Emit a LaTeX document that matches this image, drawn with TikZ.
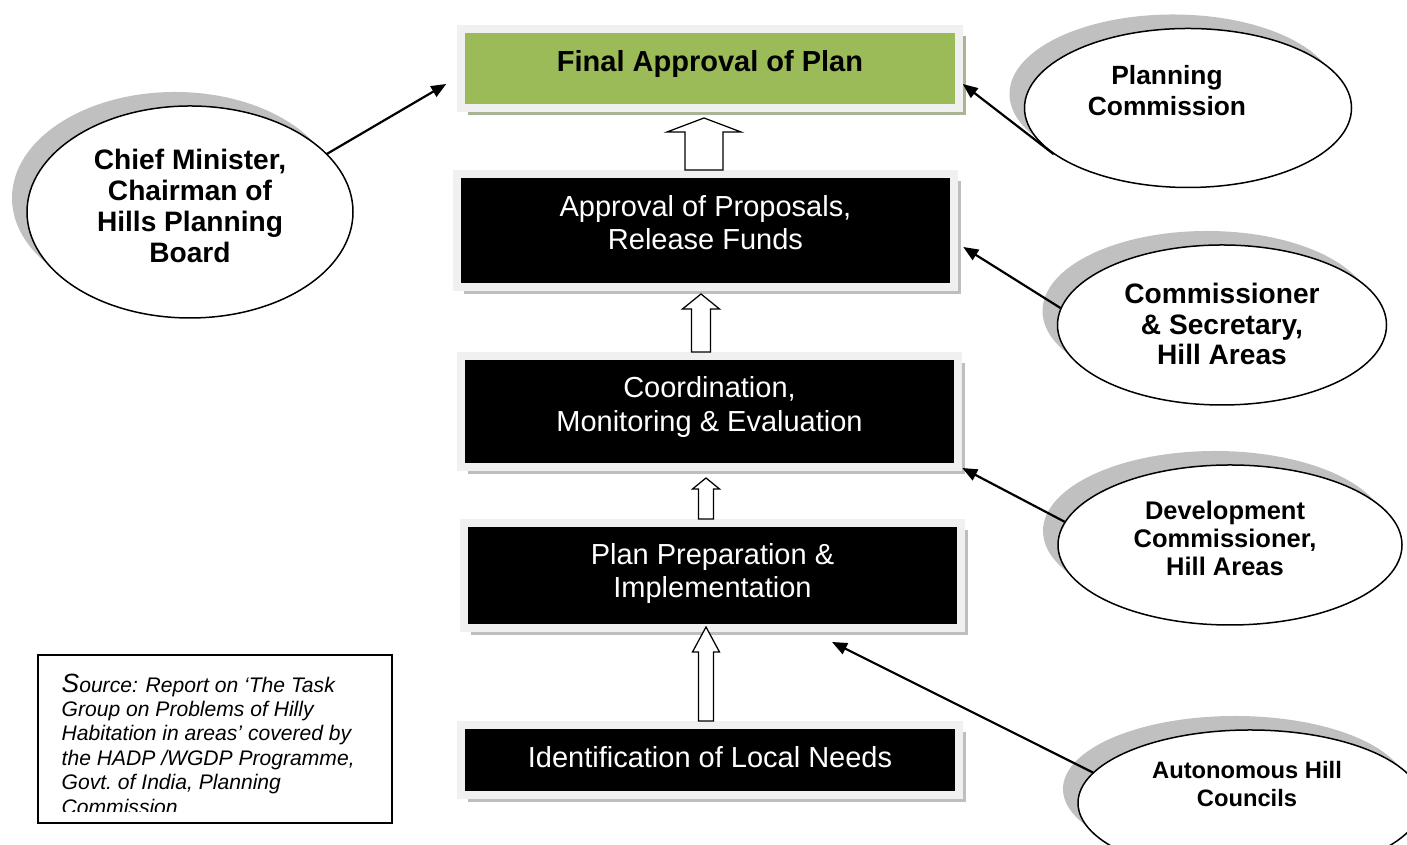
\documentclass[tikz,border=0pt]{standalone}
\usepackage{fontspec}
\setmainfont{Liberation Sans}
\usepackage{xcolor}
\usepackage{tikz}
\usetikzlibrary{arrows.meta, calc, shapes.geometric, shadows}
\definecolor{planolive}{RGB}{155, 187, 89}
\definecolor{framegray}{RGB}{240, 240, 240}
\definecolor{boxshade}{RGB}{190, 190, 190}
\definecolor{oliveshade}{RGB}{168, 180, 148}
\definecolor{ovalshade}{RGB}{192, 192, 192}

\tikzset{
  stage/.style={rectangle, fill=black, draw=framegray, line width=0.16cm, minimum width=9.95cm, inner sep=0pt,
    drop shadow={shadow xshift=0.14cm, shadow yshift=-0.14cm, fill=#1, opacity=1}},
  stage/.default=boxshade,
  stagetext/.style={text=white, align=center, inner sep=0pt, font=\fontsize{16.5}{18.8}\selectfont},
  office/.style={ellipse, draw=black, line width=0.03cm, fill=white, inner sep=0pt,
    drop shadow={shadow xshift=-0.3cm, shadow yshift=0.28cm, fill=ovalshade, opacity=1}},
  officetext/.style={align=center, inner sep=0pt},
  link/.style={line width=0.044cm, -{Triangle[length=0.3cm, width=0.24cm]}},
  hollow/.style={draw=black, fill=white, line width=0.025cm, line join=miter},
}

% block arrow from one stage up to the next:
% lower, upper, x offset, shaft half width, head half width, head length, gap below upper
\newcommand{\stagearrow}[7]{%
  \draw[hollow] let \p1=($(#1.north)+(#3,0)$), \p2=($(#2.south)+(0,-#7)$) in
    (\x1-#4,\y1) -- (\x1-#4,\y2-#6) -- (\x1-#5,\y2-#6) -- (\x1,\y2)
    -- (\x1+#5,\y2-#6) -- (\x1+#4,\y2-#6) -- (\x1+#4,\y1) -- cycle;}

\begin{document}
\begin{tikzpicture}
    \useasboundingbox (0,0) rectangle (28.14,16.9);

    % Offices
    \node[office, minimum width=6.52cm, minimum height=4.24cm] (chief) at (3.8,12.66) {};
    \node[office, minimum width=6.54cm, minimum height=3.18cm] (plancom) at (23.76,14.74) {};
    \node[office, minimum width=6.58cm, minimum height=3.2cm] (comsec) at (24.44,10.4) {};
    \node[office, minimum width=6.88cm, minimum height=3.2cm] (devcom) at (24.6,6.0) {};
    \node[office, minimum width=6.88cm, minimum height=2.92cm] (ahc) at (25.0,0.84) {};

    \node[officetext, font=\fontsize{16}{17.6}\selectfont\bfseries] (chieftxt) at (3.8,12.78) {Chief Minister,\\Chairman of\\Hills Planning\\Board};
    \node[officetext, font=\fontsize{15}{17.6}\selectfont\bfseries] (plancomtxt) at (23.34,15.09) {Planning\\Commission};
    \node[officetext, font=\fontsize{16}{17.6}\selectfont\bfseries] (comsectxt) at (24.44,10.42) {Commissioner\\\& Secretary,\\Hill Areas};
    \node[officetext, font=\fontsize{14.5}{15.9}\selectfont\bfseries] (devcomtxt) at (24.5,6.14) {Development\\Commissioner,\\Hill Areas};
    \node[officetext, font=\fontsize{13.5}{15.9}\selectfont\bfseries] (ahctxt) at (24.94,1.22) {Autonomous Hill\\Councils};

    % Stages
    \node[stage=oliveshade, fill=planolive, minimum height=1.58cm] (final) at (14.2,15.53) {};
    \node[stage, minimum height=2.26cm] (approval) at (14.11,12.29) {};
    \node[stage, minimum height=2.22cm] (coord) at (14.19,8.67) {};
    \node[stage, minimum height=2.1cm] (plan) at (14.25,5.39) {};
    \node[stage, minimum height=1.4cm] (needs) at (14.2,1.7) {};

    \node[stagetext, text=black, font=\fontsize{16.5}{18.8}\selectfont\bfseries] (finaltxt) at ([yshift=0.09cm]final.center) {Final Approval of Plan};
    \node[stagetext] (approvaltxt) at ([yshift=0.16cm]approval.center) {Approval of Proposals,\\Release Funds};
    \node[stagetext] (coordtxt) at ([yshift=0.09cm]coord.center) {Coordination,\\Monitoring \& Evaluation};
    \node[stagetext] (plantxt) at ([yshift=0.04cm]plan.center) {Plan Preparation \&\\Implementation};
    \node[stagetext] (needstxt) at ([yshift=0.06cm]needs.center) {Identification of Local Needs};

    % Block arrows between stages
    \stagearrow{approval}{final}{-0.03}{0.38cm}{0.74cm}{0.28cm}{0.12}
    \stagearrow{coord}{approval}{-0.17}{0.19cm}{0.37cm}{0.3cm}{0.06}
    \stagearrow{plan}{coord}{-0.13}{0.15cm}{0.27cm}{0.22cm}{0.14}
    \stagearrow{needs}{plan}{-0.08}{0.15cm}{0.27cm}{0.5cm}{-0.1}

    % Who acts at each stage
    \draw[link] (chief.23) -- ($(final.west)+(-0.22,-0.31)$);
    \draw[link] (plancom.199) -- ($(final.east)+(0,-0.31)$);
    \draw[link] (comsec.174) -- ($(approval.east)+(0.1,-0.33)$);
    \draw[link] (devcom.172) -- ($(coord.south east)+(0,0.06)$);
    \draw[link] (ahc.169) -- ($(plan.south)+(2.39,-0.2)$);

    % Source note
    \node[draw=black, line width=0.026cm, minimum width=7.08cm, minimum height=3.36cm, inner sep=0pt] (source) at (4.3,2.12) {};
    \begin{scope}
        \clip ($(source.south west)+(0,0.24)$) rectangle (source.north east);
        \node[anchor=north west, align=left, inner sep=0pt, font=\fontsize{12}{13.9}\selectfont\itshape] (sourcetxt)
            at ($(source.north west)+(0.48,-0.38)$)
            {{\fontsize{15}{13.9}\selectfont S}ource: Report on ‘The Task\\Group on Problems of Hilly\\Habitation in areas’ covered by\\the HADP /WGDP Programme,\\Govt.\ of India, Planning\\Commission};
    \end{scope}
\end{tikzpicture}
\end{document}
